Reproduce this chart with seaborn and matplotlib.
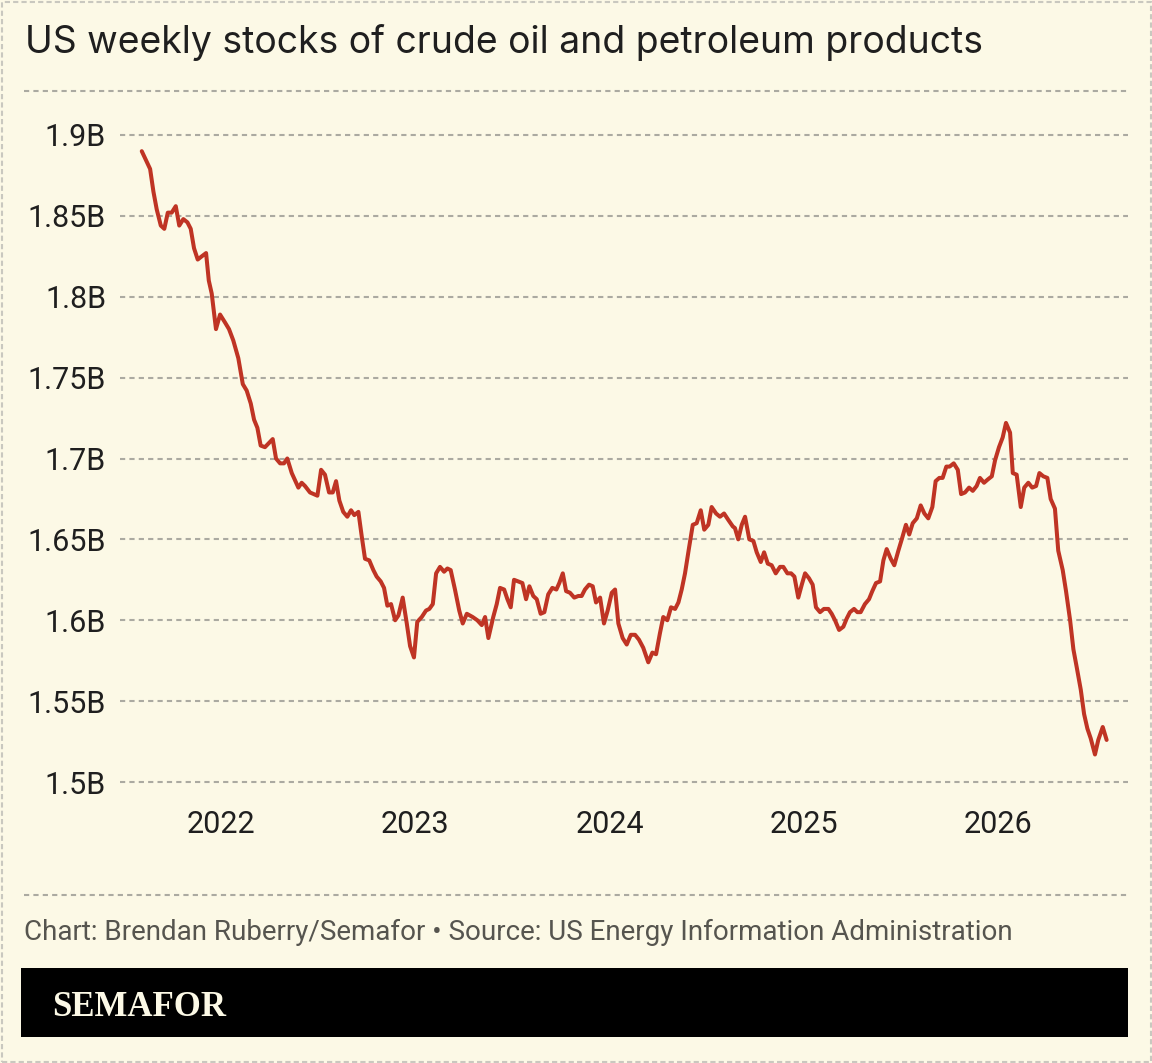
import matplotlib
matplotlib.use("Agg")
import matplotlib.pyplot as plt
from matplotlib.lines import Line2D
from matplotlib.patches import Rectangle
import seaborn as sns
import pandas as pd

# Weekly US stocks of crude oil and petroleum products, billion barrels.
# x is the week as a decimal year.
week_year = [
    2021.592, 2021.635, 2021.652, 2021.669, 2021.690, 2021.708, 2021.726, 2021.746, 2021.767, 2021.785,
    2021.806, 2021.827, 2021.844, 2021.861, 2021.880, 2021.901, 2021.923, 2021.937, 2021.952, 2021.974,
    2021.995, 2022.021, 2022.041, 2022.063, 2022.089, 2022.112, 2022.132, 2022.153, 2022.170, 2022.187,
    2022.204, 2022.226, 2022.266, 2022.283, 2022.304, 2022.324, 2022.341, 2022.364, 2022.398, 2022.415,
    2022.432, 2022.458, 2022.496, 2022.515, 2022.535, 2022.556, 2022.575, 2022.592, 2022.609, 2022.629,
    2022.650, 2022.669, 2022.686, 2022.707, 2022.724, 2022.741, 2022.763, 2022.784, 2022.801, 2022.822,
    2022.839, 2022.856, 2022.875, 2022.896, 2022.913, 2022.935, 2022.956, 2022.973, 2022.993, 2023.010,
    2023.033, 2023.055, 2023.072, 2023.090, 2023.107, 2023.127, 2023.148, 2023.165, 2023.182, 2023.204,
    2023.226, 2023.244, 2023.265, 2023.295, 2023.319, 2023.342, 2023.359, 2023.376, 2023.401, 2023.419,
    2023.436, 2023.457, 2023.474, 2023.491, 2023.508, 2023.530, 2023.551, 2023.570, 2023.587, 2023.607,
    2023.625, 2023.645, 2023.664, 2023.684, 2023.705, 2023.726, 2023.741, 2023.759, 2023.776, 2023.796,
    2023.818, 2023.839, 2023.856, 2023.873, 2023.894, 2023.913, 2023.930, 2023.951, 2023.971, 2023.990,
    2024.011, 2024.028, 2024.045, 2024.067, 2024.088, 2024.109, 2024.131, 2024.151, 2024.173, 2024.199,
    2024.220, 2024.239, 2024.259, 2024.276, 2024.297, 2024.316, 2024.337, 2024.354, 2024.371, 2024.388,
    2024.409, 2024.428, 2024.448, 2024.469, 2024.487, 2024.508, 2024.525, 2024.548, 2024.568, 2024.589,
    2024.611, 2024.634, 2024.645, 2024.662, 2024.680, 2024.697, 2024.719, 2024.740, 2024.757, 2024.778,
    2024.795, 2024.814, 2024.834, 2024.855, 2024.877, 2024.894, 2024.915, 2024.934, 2024.951, 2024.971,
    2024.989, 2025.006, 2025.026, 2025.045, 2025.062, 2025.083, 2025.103, 2025.126, 2025.143, 2025.160,
    2025.181, 2025.203, 2025.220, 2025.237, 2025.258, 2025.275, 2025.292, 2025.314, 2025.335, 2025.352,
    2025.371, 2025.392, 2025.409, 2025.426, 2025.447, 2025.465, 2025.486, 2025.506, 2025.525, 2025.542,
    2025.560, 2025.581, 2025.601, 2025.620, 2025.640, 2025.661, 2025.678, 2025.697, 2025.714, 2025.733,
    2025.750, 2025.771, 2025.792, 2025.809, 2025.829, 2025.850, 2025.869, 2025.889, 2025.906, 2025.927,
    2025.946, 2025.967, 2025.984, 2026.004, 2026.023, 2026.040, 2026.061, 2026.075, 2026.095, 2026.116,
    2026.134, 2026.155, 2026.175, 2026.195, 2026.212, 2026.232, 2026.253, 2026.270, 2026.292, 2026.309,
    2026.332, 2026.349, 2026.370, 2026.387, 2026.404, 2026.425, 2026.442, 2026.459, 2026.476, 2026.498,
    2026.515, 2026.538, 2026.558,
]
stocks_bn = [
    1.890, 1.879, 1.865, 1.854, 1.844, 1.842, 1.852, 1.852, 1.856, 1.844,
    1.848, 1.846, 1.842, 1.830, 1.823, 1.825, 1.827, 1.810, 1.802, 1.780,
    1.789, 1.784, 1.780, 1.773, 1.762, 1.746, 1.742, 1.734, 1.724, 1.719,
    1.708, 1.707, 1.712, 1.700, 1.697, 1.697, 1.700, 1.691, 1.682, 1.685,
    1.683, 1.679, 1.677, 1.693, 1.690, 1.679, 1.679, 1.686, 1.674, 1.667,
    1.664, 1.668, 1.665, 1.667, 1.652, 1.638, 1.637, 1.631, 1.627, 1.624,
    1.620, 1.609, 1.610, 1.600, 1.603, 1.614, 1.598, 1.584, 1.577, 1.599,
    1.602, 1.606, 1.607, 1.610, 1.629, 1.633, 1.630, 1.632, 1.631, 1.619,
    1.606, 1.598, 1.604, 1.602, 1.600, 1.597, 1.602, 1.589, 1.602, 1.610,
    1.620, 1.619, 1.613, 1.608, 1.625, 1.624, 1.623, 1.613, 1.621, 1.615,
    1.613, 1.604, 1.605, 1.616, 1.620, 1.619, 1.623, 1.629, 1.618, 1.617,
    1.614, 1.615, 1.615, 1.619, 1.622, 1.621, 1.611, 1.614, 1.598, 1.606,
    1.617, 1.619, 1.598, 1.589, 1.585, 1.591, 1.591, 1.588, 1.583, 1.574,
    1.580, 1.579, 1.592, 1.602, 1.600, 1.608, 1.607, 1.611, 1.619, 1.629,
    1.645, 1.659, 1.660, 1.668, 1.656, 1.659, 1.670, 1.666, 1.664, 1.666,
    1.662, 1.658, 1.657, 1.650, 1.659, 1.664, 1.650, 1.649, 1.642, 1.636,
    1.642, 1.635, 1.634, 1.629, 1.633, 1.633, 1.629, 1.629, 1.627, 1.614,
    1.622, 1.629, 1.626, 1.622, 1.608, 1.605, 1.607, 1.607, 1.604, 1.600,
    1.594, 1.596, 1.601, 1.605, 1.607, 1.605, 1.605, 1.610, 1.613, 1.618,
    1.623, 1.624, 1.637, 1.644, 1.638, 1.634, 1.643, 1.651, 1.659, 1.653,
    1.660, 1.663, 1.671, 1.666, 1.663, 1.670, 1.686, 1.688, 1.688, 1.695,
    1.695, 1.697, 1.693, 1.678, 1.679, 1.682, 1.680, 1.683, 1.688, 1.685,
    1.687, 1.689, 1.699, 1.707, 1.713, 1.722, 1.716, 1.691, 1.690, 1.670,
    1.682, 1.685, 1.682, 1.683, 1.691, 1.689, 1.688, 1.675, 1.669, 1.643,
    1.631, 1.618, 1.600, 1.582, 1.571, 1.557, 1.542, 1.533, 1.527, 1.517,
    1.526, 1.534, 1.526,
]

year_ticks = [2022, 2023, 2024, 2025, 2026]
value_ticks = [1.5, 1.55, 1.6, 1.65, 1.7, 1.75, 1.8, 1.85, 1.9]
value_labels = ["1.5B", "1.55B", "1.6B", "1.65B", "1.7B", "1.75B", "1.8B", "1.85B", "1.9B"]

title = "US weekly stocks of crude oil and petroleum products"
credit = "Chart: Brendan Ruberry/Semafor \u2022 Source: US Energy Information Administration"
brand = "SEMAFOR"

BG = "#fcf9e6"
RED = "#bf3424"
GRID = "#abaaa1"
INK = "#1f1f1f"
DASH = (0, (2.5, 2))

sns.set_style("white")
plt.rcParams["font.family"] = ["Roboto", "DejaVu Sans"]

W, H = 1152, 1063
fig = plt.figure(figsize=(W / 100, H / 100), dpi=100, facecolor=BG)

# plot area: gridlines run from x=120 to 1128, 1.9B at y=135, 1.5B at y=782
ax = fig.add_axes([120 / W, 1 - 782 / H, 1008 / W, 647 / H])
ax.set_facecolor(BG)

df = pd.DataFrame({"year": week_year, "stocks": stocks_bn})
sns.lineplot(data=df, x="year", y="stocks", color=RED, linewidth=2.9, ax=ax, zorder=3)

ax.set_xlim(2021.48, 2026.668)
ax.set_ylim(1.5, 1.9)
ax.set_xticks(year_ticks, [str(y) for y in year_ticks])
ax.set_yticks(value_ticks, value_labels)
ax.set_xlabel("")
ax.set_ylabel("")

ax.set_axisbelow(True)
ax.grid(axis="y", color=GRID, linestyle=DASH, linewidth=1.5)
ax.grid(axis="x", visible=False)
for gl in ax.get_ygridlines():
    gl.set_clip_on(False)
for s in ax.spines.values():
    s.set_visible(False)

ax.tick_params(axis="y", length=0, pad=10, labelsize=22, labelcolor=INK)
ax.tick_params(axis="x", length=7, width=1.2, color=INK, pad=13, labelsize=22, labelcolor=INK)

# title and rules
fig.text(25 / W, 1 - 53 / H, title, family=["Inter", "Liberation Sans", "DejaVu Sans"],
         fontsize=26.9, color=INK, va="baseline", ha="left")
for y in (91, 895):
    fig.add_artist(Line2D([24 / W, 1128 / W], [1 - y / H, 1 - y / H], transform=fig.transFigure,
                          color=GRID, linestyle=DASH, linewidth=1.5))

# footer
fig.text(24 / W, 1 - 940 / H, credit, family=["Roboto", "DejaVu Sans"],
         fontsize=20, color="#56554f", va="baseline", ha="left")
fig.add_artist(Rectangle((21 / W, 1 - 1037 / H), 1107 / W, 69 / H, transform=fig.transFigure,
                         facecolor="black", edgecolor="none"))
fig.text(52 / W, 1 - 1016 / H, brand, family=["Liberation Serif", "DejaVu Serif"], weight="bold",
         fontsize=25, color=BG, va="baseline", ha="left")

# dashed outer border
fig.add_artist(Rectangle((1.5 / W, 1.5 / H), 1 - 3 / W, 1 - 3 / H, transform=fig.transFigure,
                         fill=False, edgecolor="#c9c8bf", linestyle=(0, (2.5, 1.5)), linewidth=1.5))

fig.savefig("out.png", dpi=100, facecolor=BG)
